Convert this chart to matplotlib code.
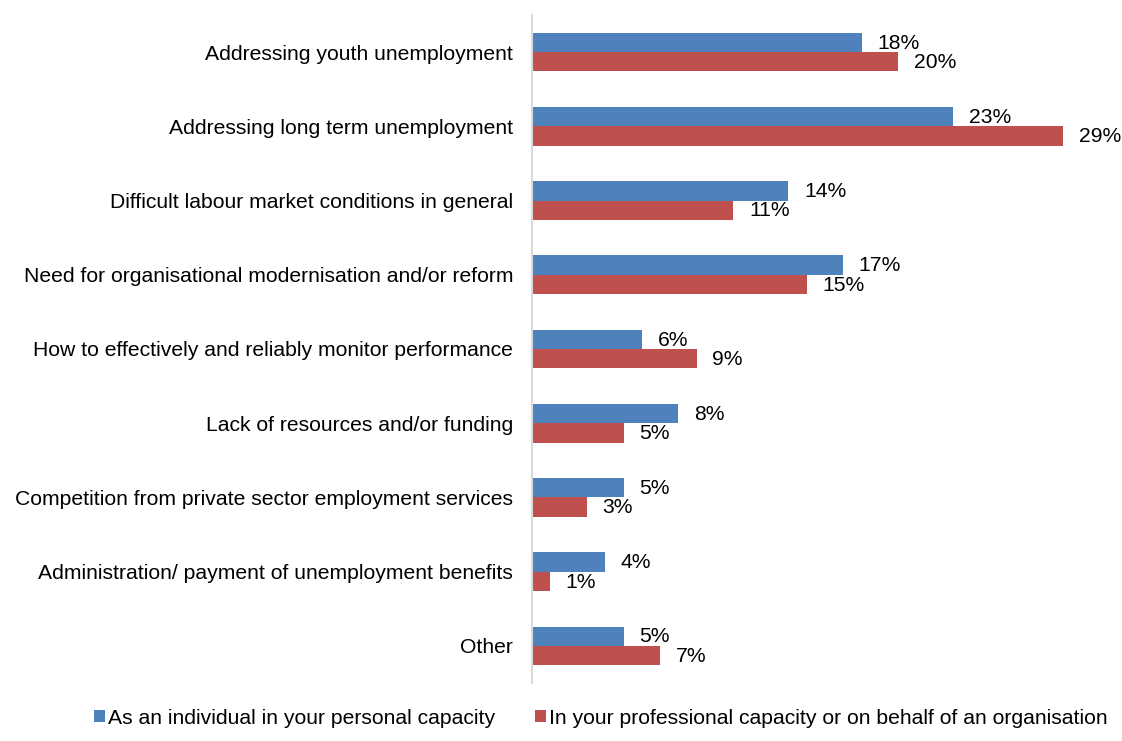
import numpy as np
import matplotlib.pyplot as plt

plt.rcParams['font.family'] = ['Liberation Sans', 'DejaVu Sans']

categories = [
    "Addressing youth unemployment",
    "Addressing long term unemployment",
    "Difficult labour market conditions in general",
    "Need for organisational modernisation and/or reform",
    "How to effectively and reliably monitor performance",
    "Lack of resources and/or funding",
    "Competition from private sector employment services",
    "Administration/ payment of unemployment benefits",
    "Other",
]
personal = [18, 23, 14, 17, 6, 8, 5, 4, 5]
professional = [20, 29, 11, 15, 9, 5, 3, 1, 7]
series_names = ["As an individual in your personal capacity",
                "In your professional capacity or on behalf of an organisation"]

blue = '#4F81BD'
red = '#C0504D'
fs = 15.2

fig = plt.figure(figsize=(11.22, 7.41), dpi=100)
ax = fig.add_axes([532 / 1122, 1 - 683 / 741, (1063 - 532) / 1122, (683 - 15) / 741])

y = np.arange(len(categories))
h = 0.26
ax.barh(y - h / 2, personal, height=h, color=blue, label=series_names[0])
ax.barh(y + h / 2, professional, height=h, color=red, label=series_names[1])

for i in range(len(categories)):
    ax.text(personal[i] + 0.85, y[i] - h / 2 + 0.01, f"{personal[i]}%", va='center', ha='left', fontsize=fs)
    ax.text(professional[i] + 0.85, y[i] + h / 2 + 0.01, f"{professional[i]}%", va='center', ha='left', fontsize=fs)

ax.set_xlim(0, 29)
ax.set_ylim(len(categories) - 0.5, -0.5)
ax.set_yticks(y)
ax.set_yticklabels(categories, fontsize=fs)
ax.tick_params(axis='y', length=0, pad=13.5)
ax.set_xticks([])
for s in ['top', 'right', 'bottom']:
    ax.spines[s].set_visible(False)
ax.spines['left'].set_color('#D9D9D9')
ax.spines['left'].set_linewidth(1.5)

fig.legend(loc='lower left', bbox_to_anchor=(75 / 1122, -0.008), ncol=2, frameon=False,
           fontsize=fs, handlelength=0.5, handleheight=0.5, handletextpad=0.15,
           columnspacing=1.9)

fig.savefig('out.png', dpi=100)
